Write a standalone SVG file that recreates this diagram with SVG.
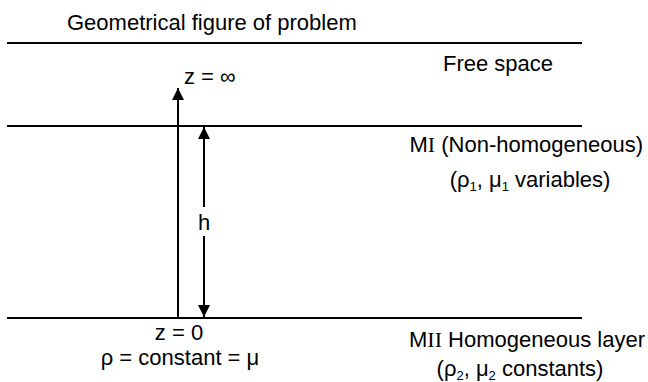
<svg xmlns="http://www.w3.org/2000/svg" width="648" height="382" viewBox="0 0 648 382">
<style>
  .t{font-family:"Liberation Sans",Arial,sans-serif;font-size:22px;fill:#000}
  .r{font-family:"Liberation Serif","Times New Roman",serif}
  .s{font-size:13px}
  .ln{stroke:#000;stroke-width:2.2;fill:none}
  .ax{stroke:#000;stroke-width:2;fill:none}
</style>
<defs>
  <marker id="ah" markerUnits="userSpaceOnUse" markerWidth="12" markerHeight="14" viewBox="0 0 12 14" refX="12" refY="6" orient="auto">
    <path d="M0,0 L12,6 L0,12 Z" fill="#000"/>
  </marker>
</defs>
<rect width="648" height="382" fill="#fff"/>
<g id="layers">
  <line class="ln" x1="7" y1="43" x2="582" y2="43"/>
  <line class="ln" x1="7" y1="126" x2="582" y2="126"/>
  <line class="ln" x1="7" y1="318" x2="582" y2="318"/>
</g>
<g id="connectors">
  <line class="ax" x1="178" y1="318" x2="178" y2="88" marker-end="url(#ah)"/>
  <line class="ax" x1="204" y1="207" x2="204" y2="127" marker-end="url(#ah)"/>
  <line class="ax" x1="204" y1="236" x2="204" y2="317" marker-end="url(#ah)"/>
</g>
<g id="title"><text class="t" x="67" y="30">Geometrical figure of problem</text></g>
<g id="free-space"><text class="t" x="443" y="71">Free space</text></g>
<g id="z-inf"><text class="t" x="184" y="84">z = ∞</text></g>
<g id="h-label"><text class="t" x="204" y="230" text-anchor="middle">h</text></g>
<g id="z-zero"><text class="t" x="179" y="340" text-anchor="middle">z = 0</text></g>
<g id="rho"><text class="t" x="180" y="365" text-anchor="middle">ρ = constant = μ</text></g>
<g id="mi">
  <text class="t" x="643" y="152" text-anchor="end">M<tspan class="r">I</tspan> (Non-homogeneous)</text>
  <text class="t" x="530" y="187" text-anchor="middle">(ρ<tspan class="s" dy="4">1</tspan><tspan dy="-4">, μ</tspan><tspan class="s" dy="4">1</tspan><tspan dy="-4"> variables)</tspan></text>
</g>
<g id="mii">
  <text class="t" x="645" y="347" text-anchor="end">M<tspan class="r">II</tspan> Homogeneous layer</text>
  <text class="t" x="520" y="376" text-anchor="middle">(ρ<tspan class="s" dy="4">2</tspan><tspan dy="-4">, μ</tspan><tspan class="s" dy="4">2</tspan><tspan dy="-4"> constants)</tspan></text>
</g>
</svg>
